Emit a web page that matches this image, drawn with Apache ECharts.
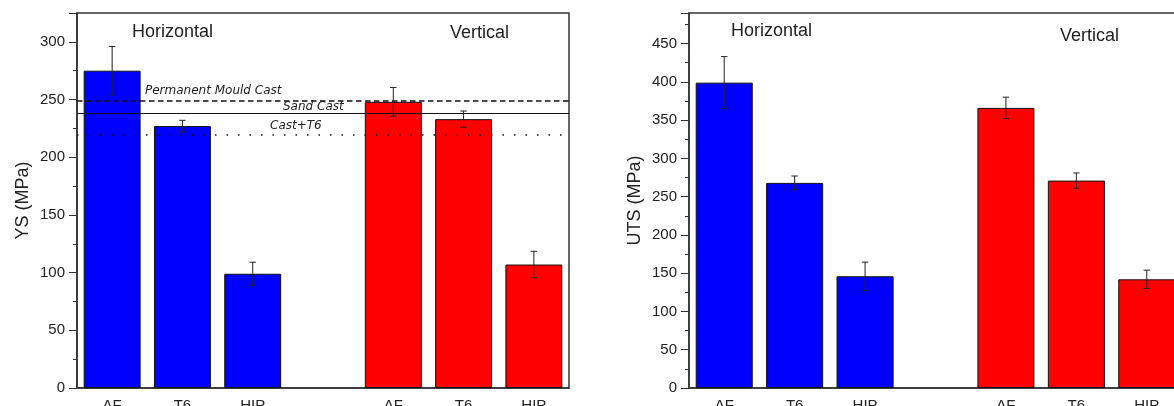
<!DOCTYPE html>
<html>
<head>
<meta charset="utf-8">
<script src="https://cdn.jsdelivr.net/npm/echarts@6/dist/echarts.min.js"></script>
<style>
html,body{margin:0;padding:0;background:#fff;}
#chart{width:1174px;height:406px;}
</style>
</head>
<body>
<div id="chart"></div>
<script>
// ---- data ----
const categories = ['AF', 'T6', 'HIP', '', 'AF', 'T6', 'HIP'];
const groupNames = ['Horizontal', 'Vertical'];
const ysValues = [275, 227, 99, null, 248, 233, 107];
const ysErrors = [21, 5, 10, null, 12.5, 7, 11.5];
const utsValues = [399, 268, 146, null, 366, 271, 142];
const utsErrors = [34, 9, 18.5, null, 14, 10, 12];
const refNames = ['Permanent Mould Cast', 'Sand Cast', 'Cast+T6'];
const refValues = [249, 238, 219.5];
const ysTicks = { min: 0, max: 325, interval: 50 };
const utsTicks = { min: 0, max: 490, interval: 50 };

// ---- helpers ----
const FONT = '"Liberation Sans", Arial, Helvetica, sans-serif';
const TXT = '#222';
const AX = '#333';
function barColor(i) { return i < 3 ? '#0000ff' : '#ff0000'; }
function barData(vals) {
  return vals.map((v, i) => v == null ? '-' : { value: v, itemStyle: { color: barColor(i) } });
}
function errData(vals, errs) {
  const out = [];
  vals.forEach((v, i) => { if (v != null) out.push([i, v - errs[i], v + errs[i]]); });
  return out;
}
function errRender(params, api) {
  const x = api.value(0);
  const lo = api.coord([x, api.value(1)]);
  const hi = api.coord([x, api.value(2)]);
  const c = 3.2;
  const st = { stroke: '#222', lineWidth: 1 };
  return {
    type: 'group',
    children: [
      { type: 'line', shape: { x1: lo[0], y1: lo[1], x2: hi[0], y2: hi[1] }, style: st },
      { type: 'line', shape: { x1: lo[0] - c, y1: lo[1], x2: lo[0] + c, y2: lo[1] }, style: st },
      { type: 'line', shape: { x1: hi[0] - c, y1: hi[1], x2: hi[0] + c, y2: hi[1] }, style: st }
    ]
  };
}
const halfCats = new Array(categories.length * 2).fill('');

function xAxes(gi) {
  return [{
    gridIndex: gi, type: 'category', data: categories,
    axisLine: { lineStyle: { color: AX, width: 1.5 } },
    axisTick: { inside: true, length: 3, lineStyle: { color: AX } },
    axisLabel: { color: TXT, fontFamily: FONT, fontSize: 15, margin: 10, interval: 0 }
  }, {
    gridIndex: gi, type: 'category', data: halfCats, position: 'bottom',
    axisLine: { show: false },
    axisTick: { inside: true, length: 3, lineStyle: { color: AX } },
    axisLabel: { show: false }
  }];
}
function yAxis(gi, name, t, gap) {
  return {
    gridIndex: gi, type: 'value', min: t.min, max: t.max, interval: t.interval,
    name: name, nameLocation: 'middle', nameGap: gap,
    nameTextStyle: { color: TXT, fontFamily: FONT, fontSize: 18 },
    axisLine: { show: true, lineStyle: { color: AX, width: 1.5 } },
    axisTick: { show: true, length: 8, lineStyle: { color: AX } },
    minorTick: { show: true, splitNumber: 2, length: 4, lineStyle: { color: AX } },
    splitLine: { show: false },
    axisLabel: { color: TXT, fontFamily: FONT, fontSize: 15, margin: 12, showMaxLabel: false }
  };
}

const refStyles = [
  { type: [5.5, 3.5], width: 1.5, dx: 68, dy: 4 },
  { type: 'solid', width: 1.2, dx: 206, dy: 1 },
  { type: [1.5, 10], width: 1.5, dx: 193, dy: 3 }
];
const markLineData = refValues.map((v, i) => ({
  yAxis: v,
  lineStyle: { type: refStyles[i].type, width: refStyles[i].width, color: '#111' },
  label: {
    show: true, formatter: refNames[i], position: 'insideStartTop',
    distance: [refStyles[i].dx, refStyles[i].dy],
    fontFamily: '"DejaVu Sans", sans-serif', fontStyle: 'italic', fontSize: 12, color: '#222'
  }
}));

const titleBase = { padding: 0, textStyle: { color: TXT, fontFamily: FONT, fontSize: 18, fontWeight: 'normal' } };

const option = {
  backgroundColor: '#fff',
  animation: false,
  title: [
    Object.assign({ text: groupNames[0], left: 132, top: 23 }, titleBase),
    Object.assign({ text: groupNames[1], left: 450, top: 24 }, titleBase),
    Object.assign({ text: groupNames[0], left: 731, top: 22 }, titleBase),
    Object.assign({ text: groupNames[1], left: 1060, top: 27 }, titleBase)
  ],
  grid: [
    { left: 77, top: 13, width: 492, bottom: 18, show: true, borderColor: AX, borderWidth: 1.5, outerBoundsMode: 'none', containLabel: false },
    { left: 689, top: 13, right: -8, bottom: 18, show: true, borderColor: AX, borderWidth: 1.5, outerBoundsMode: 'none', containLabel: false }
  ],
  xAxis: [...xAxes(0), ...xAxes(1)],
  yAxis: [yAxis(0, 'YS (MPa)', ysTicks, 45), yAxis(1, 'UTS (MPa)', utsTicks, 45)],
  series: [
    {
      type: 'bar', xAxisIndex: 0, yAxisIndex: 0, data: barData(ysValues), barWidth: '81%',
      itemStyle: { borderColor: '#111', borderWidth: 1 },
      markLine: { silent: true, symbol: 'none', data: markLineData }
    },
    {
      type: 'custom', xAxisIndex: 0, yAxisIndex: 0, data: errData(ysValues, ysErrors),
      renderItem: errRender, encode: { x: 0, y: [1, 2] }, z: 5
    },
    {
      type: 'bar', xAxisIndex: 2, yAxisIndex: 1, data: barData(utsValues), barWidth: '81%',
      itemStyle: { borderColor: '#111', borderWidth: 1 }
    },
    {
      type: 'custom', xAxisIndex: 2, yAxisIndex: 1, data: errData(utsValues, utsErrors),
      renderItem: errRender, encode: { x: 0, y: [1, 2] }, z: 5
    }
  ]
};
const chart = echarts.init(document.getElementById('chart'), null, { renderer: 'canvas' });
chart.setOption(option);
</script>
</body>
</html>
